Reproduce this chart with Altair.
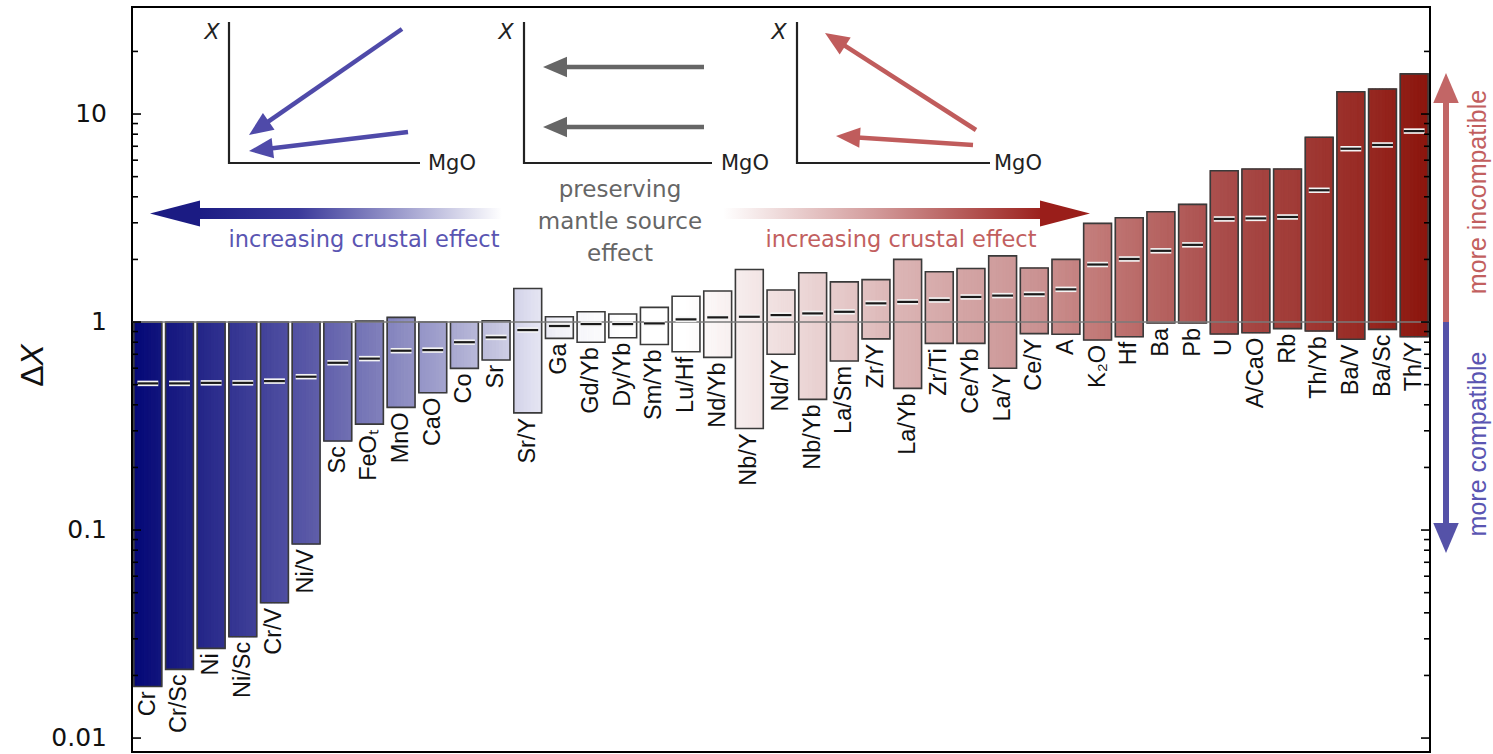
import math
import altair as alt
import pandas as pd

# ---- data: range of ΔX for each element / ratio, with the median -----------
labels = ["Cr", "Cr/Sc", "Ni", "Ni/Sc", "Cr/V", "Ni/V", "Sc", "FeOₜ", "MnO", "CaO",
          "Co", "Sr", "Sr/Y", "Ga", "Gd/Yb", "Dy/Yb", "Sm/Yb", "Lu/Hf", "Nd/Yb", "Nb/Y",
          "Nd/Y", "Nb/Yb", "La/Sm", "Zr/Y", "La/Yb", "Zr/Ti", "Ce/Yb", "La/Y", "Ce/Y", "A",
          "K₂O", "Hf", "Ba", "Pb", "U", "A/CaO", "Rb", "Th/Yb", "Ba/V", "Ba/Sc", "Th/Y"]
lows = [0.0177, 0.0214, 0.027, 0.0307, 0.0447, 0.0857, 0.268, 0.323, 0.389, 0.457,
        0.599, 0.657, 0.366, 0.835, 0.80, 0.84, 0.78, 0.72, 0.676, 0.308,
        0.70, 0.425, 0.65, 0.83, 0.48, 0.79, 0.79, 0.60, 0.88, 0.873,
        0.82, 0.85, 0.99, 0.99, 0.876, 0.888, 0.93, 0.905, 0.826, 0.922, 0.85]
highs = [1.0, 1.0, 1.0, 1.0, 1.0, 1.0, 1.0, 1.01, 1.053, 1.0,
         1.0, 1.015, 1.45, 1.06, 1.12, 1.093, 1.176, 1.33, 1.41, 1.79,
         1.425, 1.725, 1.56, 1.60, 2.0, 1.745, 1.81, 2.08, 1.82, 2.0,
         2.98, 3.17, 3.39, 3.68, 5.34, 5.44, 5.44, 7.73, 12.8, 13.2, 15.6]
medians = [0.507, 0.507, 0.51, 0.51, 0.52, 0.546, 0.637, 0.667, 0.728, 0.733,
           0.80, 0.844, 0.915, 0.957, 0.978, 0.978, 0.985, 1.03, 1.053, 1.06,
           1.08, 1.10, 1.12, 1.23, 1.25, 1.276, 1.32, 1.34, 1.36, 1.436,
           1.89, 2.01, 2.20, 2.35, 3.13, 3.15, 3.20, 4.30, 6.81, 7.10, 8.28]

major_ticks = [0.01, 0.1, 1, 10]
major_tick_labels = ["0.01", "0.1", "1", "10"]
minor_ticks = [0.02, 0.03, 0.04, 0.05, 0.06, 0.07, 0.08, 0.09,
               0.2, 0.3, 0.4, 0.5, 0.6, 0.7, 0.8, 0.9,
               2, 3, 4, 5, 6, 7, 8, 9, 20]

# ---- layout -----------------------------------------------------------------
LEFT, TOP, RIGHT, BOTTOM = 132, 7, 63, 2
W, H = 1493 - LEFT - RIGHT, 754 - TOP - BOTTOM
Y_DOMAIN = [0.00857, 32.7]

BLUE = "#4f4aa9"
BLUE_TEXT = "#5a55b2"
RED = "#c05c5c"
RED_TEXT = "#c25f5f"
GREY = "#666666"
HFONT = "DejaVu Sans"        # horizontal annotation text
VFONT = "Liberation Sans"    # rotated labels

# bar fill: navy -> white -> dark red along the category axis
ramp_pos = [0, 5, 9, 11, 12, 13, 15, 17, 18, 20, 24, 28, 30, 34, 38, 40]
ramp_col = ["#0b0e7a", "#5857a6", "#9c9cca", "#c4c4df", "#dcdcee", "#f2f2f8",
            "#ffffff", "#ffffff", "#faf4f4", "#efdede", "#dab2b2", "#cb9494",
            "#c27a78", "#a94c4a", "#9a2e28", "#8e1a12"]

xs = alt.Scale(domain=[-0.5, len(labels) - 0.5], nice=False, zero=False)
ys = alt.Scale(type="log", domain=Y_DOMAIN, nice=False)
cs = alt.Scale(domain=ramp_pos, range=ramp_col, interpolate="rgb")

HALF = 0.44     # half bar width (category units)
MHALF = 0.33    # half median-tick width
SLICES = 8

bars = pd.DataFrame({
    "i": range(len(labels)), "label": labels, "lo": lows, "hi": highs, "med": medians,
})
bars["x0"] = bars["i"] - HALF
bars["x1"] = bars["i"] + HALF
bars["m0"] = bars["i"] - MHALF
bars["m1"] = bars["i"] + MHALF

# thin vertical slices give each bar the running colour gradient
step = 2 * HALF / SLICES
slice_rows = []
for r in bars.itertuples():
    for k in range(SLICES):
        a = r.x0 + k * step
        slice_rows.append({"a": a, "b": min(a + step + 0.01, r.x1), "pos": a + step / 2,
                           "lo": r.lo, "hi": r.hi})
slices = pd.DataFrame(slice_rows)

fill_layer = alt.Chart(slices).mark_rect(strokeWidth=0.9).encode(
    x=alt.X("a:Q", scale=xs, axis=None), x2="b:Q",
    y=alt.Y("lo:Q", scale=ys, axis=None), y2="hi:Q",
    color=alt.Color("pos:Q", scale=cs, legend=None),
    stroke=alt.Stroke("pos:Q", scale=cs, legend=None),
)
outline_layer = alt.Chart(bars).mark_rect(fill="white", fillOpacity=0, stroke="#3a3a3a",
                                          strokeWidth=1.6).encode(
    x=alt.X("x0:Q", scale=xs, axis=None), x2="x1:Q",
    y=alt.Y("lo:Q", scale=ys, axis=None), y2="hi:Q",
)
unity_layer = alt.Chart(pd.DataFrame({"v": [1.0]})).mark_rule(
    color="#7a7a7a", strokeWidth=1.6).encode(
    y=alt.Y("v:Q", scale=ys, axis=None), x=alt.value(0), x2=alt.value(W))
median_halo = alt.Chart(bars).mark_rule(color="#f4f4f4", strokeWidth=5.5, strokeCap="butt").encode(
    x=alt.X("m0:Q", scale=xs, axis=None), x2="m1:Q", y=alt.Y("med:Q", scale=ys, axis=None))
median_line = alt.Chart(bars).mark_rule(color="#1a1a1a", strokeWidth=2.2, strokeCap="butt").encode(
    x=alt.X("m0:Q", scale=xs, axis=None), x2="m1:Q", y=alt.Y("med:Q", scale=ys, axis=None))
label_layer = alt.Chart(bars).mark_text(
    angle=270, align="right", baseline="middle", dx=-5, font=VFONT, fontSize=23.5,
    color="#111111").encode(
    x=alt.X("i:Q", scale=xs, axis=None), y=alt.Y("lo:Q", scale=ys, axis=None), text="label:N")

# ---- log axis ticks on both sides (pointing inward) and labels --------------
def tick_layer(values, x0, x1):
    return alt.Chart(pd.DataFrame({"v": values})).mark_rule(color="black", strokeWidth=1.6).encode(
        y=alt.Y("v:Q", scale=ys, axis=None), x=alt.value(x0), x2=alt.value(x1))

ticks = [tick_layer(major_ticks, 0, 9), tick_layer(minor_ticks, 0, 6),
         tick_layer(major_ticks, W - 9, W), tick_layer(minor_ticks, W - 6, W)]
tick_labels = alt.Chart(pd.DataFrame({"v": major_ticks, "t": major_tick_labels})).mark_text(
    align="right", baseline="middle", font=HFONT, fontSize=25, color="#111111").encode(
    y=alt.Y("v:Q", scale=ys, axis=None), x=alt.value(-25), text="t:N")

# ---- annotations (page pixel positions converted to plot coordinates) -------
def px(x):
    return x - LEFT


def py(y):
    return y - TOP


def text_layer(items, **style):
    df = pd.DataFrame([{"x": px(x), "y": py(y), "t": t} for t, x, y in items])
    return alt.Chart(df).mark_text(**style).encode(
        x=alt.X("x:Q", scale=None, axis=None), y=alt.Y("y:Q", scale=None, axis=None), text="t:N")


def segment_layer(segs, color, width):
    df = pd.DataFrame([{"x": px(a), "y": py(b), "x2": px(c), "y2": py(d)} for a, b, c, d in segs])
    return alt.Chart(df).mark_rule(color=color, strokeWidth=width, strokeCap="butt").encode(
        x=alt.X("x:Q", scale=None, axis=None), y=alt.Y("y:Q", scale=None, axis=None),
        x2="x2:Q", y2="y2:Q")


HEAD = "M1,0L-1,-0.85L-1,0.85Z"


def arrow_layers(arrows):
    shafts, heads = [], []
    for (tx, ty), (hx, hy), color, width, length in arrows:
        dx, dy = hx - tx, hy - ty
        n = math.hypot(dx, dy)
        ux, uy = dx / n, dy / n
        shafts.append({"x": px(tx), "y": py(ty), "x2": px(hx - ux * length * 0.9),
                       "y2": py(hy - uy * length * 0.9), "c": color, "w": width})
        heads.append({"x": px(hx - ux * length / 2), "y": py(hy - uy * length / 2), "c": color,
                      "s": length * length, "ang": math.degrees(math.atan2(dy, dx)) % 360})
    shaft = alt.Chart(pd.DataFrame(shafts)).mark_rule(strokeCap="butt").encode(
        x=alt.X("x:Q", scale=None, axis=None), y=alt.Y("y:Q", scale=None, axis=None),
        x2="x2:Q", y2="y2:Q", color=alt.Color("c:N", scale=None),
        strokeWidth=alt.StrokeWidth("w:Q", scale=None))
    head = alt.Chart(pd.DataFrame(heads)).mark_point(shape=HEAD, filled=True, opacity=1,
                                                     strokeWidth=0).encode(
        x=alt.X("x:Q", scale=None, axis=None), y=alt.Y("y:Q", scale=None, axis=None),
        color=alt.Color("c:N", scale=None), size=alt.Size("s:Q", scale=None),
        angle=alt.Angle("ang:Q", scale=None))
    return [shaft, head]


# schematic X-vs-MgO insets
inset_axes = segment_layer([
    (229, 22, 229, 164), (228, 163, 420, 163),
    (524, 22, 524, 164), (523, 163, 712, 163),
    (797, 22, 797, 164), (796, 163, 990, 163),
], "#222222", 2.2)
inset_mgo = text_layer([("MgO", 428, 164), ("MgO", 721, 164), ("MgO", 994, 164)],
                       align="left", baseline="middle", font=HFONT, fontSize=21, color="#222222")
inset_x = text_layer([("X", 212, 32), ("X", 506, 32), ("X", 779, 32)],
                     align="center", baseline="middle", font=HFONT, fontSize=22,
                     fontStyle="italic", color="#222222")
inset_arrows = arrow_layers([
    ((402, 29), (249, 135), BLUE, 4.5, 24),
    ((408, 132), (249, 151), BLUE, 4.5, 24),
    ((704, 67), (543, 67), GREY, 4.5, 24),
    ((704, 127), (543, 127), GREY, 4.5, 24),
    ((976, 130), (825, 33), RED, 4.5, 24),
    ((973, 145), (836, 136), RED, 4.5, 24),
])

# long two-headed gradient arrow
shaft_df = pd.DataFrame([{"x": px(196), "x2": px(1046), "y": py(208), "y2": py(219)}])
gradient_shaft = alt.Chart(shaft_df).mark_rect(fill={
    "gradient": "linear", "x1": 0, "y1": 0, "x2": 1, "y2": 0,
    "stops": [
        {"offset": 0.0, "color": "#1b1b83"},
        {"offset": 0.12, "color": "#3a399a"},
        {"offset": 0.36, "color": "#ffffff"},
        {"offset": 0.62, "color": "#ffffff"},
        {"offset": 0.80, "color": "#d29a9a"},
        {"offset": 1.0, "color": "#9a1e1a"},
    ]}).encode(
    x=alt.X("x:Q", scale=None, axis=None), x2="x2:Q",
    y=alt.Y("y:Q", scale=None, axis=None), y2="y2:Q")
big_heads = alt.Chart(pd.DataFrame([
    {"x": px(175), "y": py(213.5), "c": "#1b1b83", "ang": 180},
    {"x": px(1065), "y": py(213.5), "c": "#9a1e1a", "ang": 0},
])).mark_point(shape="M1,0L-1,-0.52L-1,0.52Z", filled=True, opacity=1, strokeWidth=0,
               size=2500).encode(
    x=alt.X("x:Q", scale=None, axis=None), y=alt.Y("y:Q", scale=None, axis=None),
    color=alt.Color("c:N", scale=None), angle=alt.Angle("ang:Q", scale=None))

crust_blue = text_layer([("increasing crustal effect", 364, 240)], align="center",
                        baseline="middle", font=HFONT, fontSize=22.5, color=BLUE_TEXT)
crust_red = text_layer([("increasing crustal effect", 901, 240)], align="center",
                       baseline="middle", font=HFONT, fontSize=22.5, color=RED_TEXT)
mantle = text_layer([("preserving", 620, 190), ("mantle source", 620, 222), ("effect", 620, 254)],
                    align="center", baseline="middle", font=HFONT, fontSize=23, color=GREY)

# compatibility arrows on the right
side_arrows = arrow_layers([
    ((1446, 322), (1446, 73), "#c26666", 6, 30),
    ((1446, 322), (1446, 553), "#5552a8", 6, 30),
])
more_incomp = text_layer([("more incompatible", 1478, 192)], angle=270, align="center",
                         baseline="middle", font=VFONT, fontSize=25, color=RED_TEXT)
more_comp = text_layer([("more compatible", 1478, 444)], angle=270, align="center",
                       baseline="middle", font=VFONT, fontSize=25, color=BLUE_TEXT)

# y-axis title ΔX (italic X)
title_delta = text_layer([("Δ", 33, 376)], angle=270, align="center", baseline="middle",
                         font=VFONT, fontSize=32, color="#111111")
title_x = text_layer([("X", 33, 355)], angle=270, align="center", baseline="middle",
                     font=VFONT, fontSize=32, fontStyle="italic", color="#111111")

layers = ([fill_layer, outline_layer, unity_layer, median_halo, median_line, label_layer]
          + ticks + [tick_labels, inset_axes, inset_mgo, inset_x] + inset_arrows
          + [gradient_shaft, big_heads, crust_blue, crust_red, mantle]
          + side_arrows + [more_incomp, more_comp, title_delta, title_x])

chart = alt.layer(*layers).properties(
    width=W, height=H,
    padding={"left": LEFT, "top": TOP, "right": RIGHT, "bottom": BOTTOM},
    autosize=alt.AutoSizeParams(type="none"),
    background="white",
).configure_view(stroke="black", strokeWidth=2)

chart.save("out.html", embed_options={"renderer": "svg", "actions": False})
